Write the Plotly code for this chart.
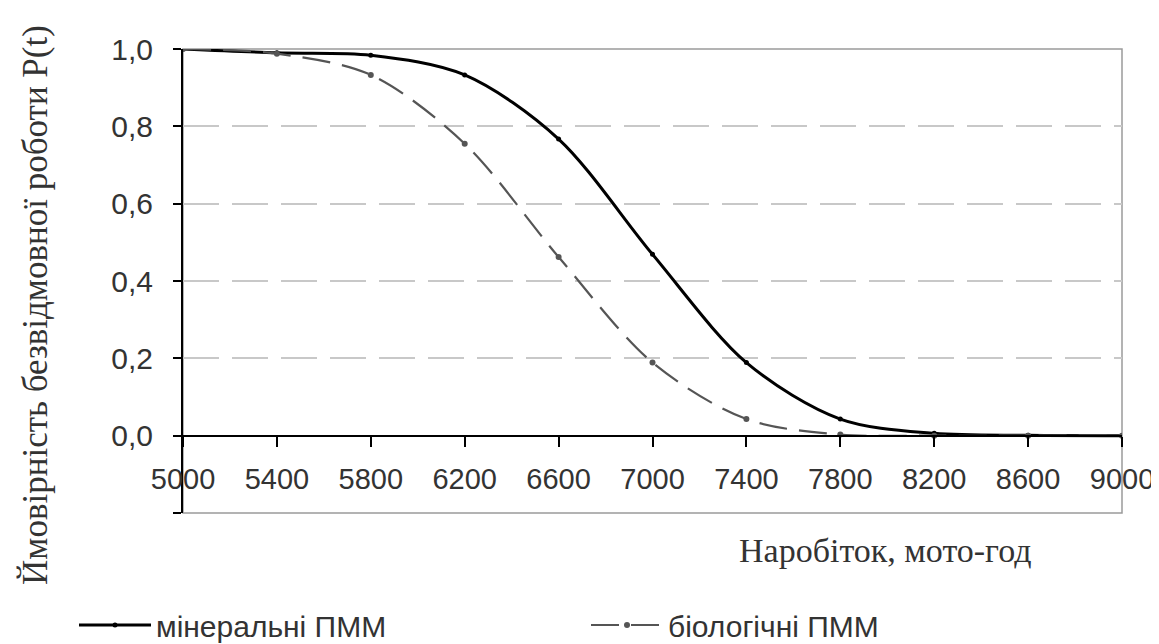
import plotly.graph_objects as go

hours = [5000, 5400, 5800, 6200, 6600, 7000, 7400, 7800, 8200, 8600, 9000]
mineral = [1.0, 0.99, 0.984, 0.933, 0.767, 0.469, 0.189, 0.043, 0.006, 0.001, 0.0]
biological = [1.0, 0.988, 0.933, 0.755, 0.462, 0.189, 0.043, 0.003, 0.0, 0.0, 0.0]

y_ticks = [-0.2, 0.0, 0.2, 0.4, 0.6, 0.8, 1.0]
y_tick_text = ["", "0,0", "0,2", "0,4", "0,6", "0,8", "1,0"]
x_ticks = [5000, 5400, 5800, 6200, 6600, 7000, 7400, 7800, 8200, 8600, 9000]

names = ["мінеральні ПММ", "біологічні ПММ"]

# page body has an 8px default margin; size the figure to fit the 1159x644 window
OFF = 8
W, H = 1159 - OFF, 644 - OFF
L, R, T, B = 175, 37, 41, 131
PW, PH = W - L - R, H - T - B


def px(x_screen):
    return (x_screen - OFF - L) / PW


def py(y_screen):
    return (H - B - (y_screen - OFF)) / PH


fig = go.Figure()
fig.add_trace(go.Scatter(
    x=hours, y=mineral, name=names[0], mode="lines+markers",
    line=dict(color="#000000", width=3, shape="spline", smoothing=0.9),
    marker=dict(color="#000000", size=5, symbol="circle"),
))
fig.add_trace(go.Scatter(
    x=hours, y=biological, name=names[1], mode="lines+markers",
    line=dict(color="#555555", width=2.2, dash="28px,12px", shape="spline", smoothing=0.9),
    marker=dict(color="#555555", size=6, symbol="circle"),
))

fig.update_layout(
    width=W, height=H,
    margin=dict(l=L, r=R, t=T, b=B, autoexpand=False),
    paper_bgcolor="white", plot_bgcolor="white",
    font=dict(family="Liberation Sans, Arial, sans-serif", color="#333333"),
    showlegend=True,
    legend=dict(
        orientation="h", x=px(82) - 8 / PW, xanchor="left", y=py(625), yanchor="middle",
        font=dict(family="Liberation Sans Narrow, Arial Narrow, Liberation Sans, sans-serif",
                  size=30, color="#333333"),
        entrywidth=425, entrywidthmode="pixels", itemwidth=72,
        bgcolor="rgba(0,0,0,0)",
    ),
    xaxis=dict(
        range=[5000, 9000], tickvals=x_ticks, ticktext=[str(v) for v in x_ticks],
        anchor="free", position=0.2 / 1.2,
        showline=True, linecolor="#000000", linewidth=2,
        ticks="outside", ticklen=10, tickwidth=1.5, tickcolor="#000000",
        ticklabelstandoff=8,
        tickfont=dict(size=29, color="#333333"),
        showgrid=False, zeroline=False,
    ),
    yaxis=dict(
        range=[-0.2, 1.0], tickvals=y_ticks, ticktext=y_tick_text,
        showline=True, linecolor="#000000", linewidth=2,
        ticks="outside", ticklen=8, tickwidth=1.5, tickcolor="#000000",
        ticklabelstandoff=14,
        tickfont=dict(size=30, color="#333333"),
        showgrid=True, gridcolor="#c8c8c8", gridwidth=2, griddash="36px,13px",
        zeroline=False,
    ),
)

fig.add_shape(type="rect", xref="paper", yref="paper", x0=0, x1=1, y0=0, y1=1,
              line=dict(color="#9a9a9a", width=1.5), layer="below")

fig.add_annotation(
    text="Ймовірність безвідмовної роботи P(t)", xref="paper", yref="paper",
    x=px(35), y=py(305), textangle=-90,
    showarrow=False, xanchor="center", yanchor="middle",
    font=dict(family="Liberation Serif, Times New Roman, serif", size=35, color="#333333"),
)
fig.add_annotation(
    text="Наробіток, мото-год", xref="paper", yref="paper",
    x=px(885), y=py(550),
    showarrow=False, xanchor="center", yanchor="middle",
    font=dict(family="Liberation Serif, Times New Roman, serif", size=34, color="#333333"),
)

fig.write_html("out.html")
